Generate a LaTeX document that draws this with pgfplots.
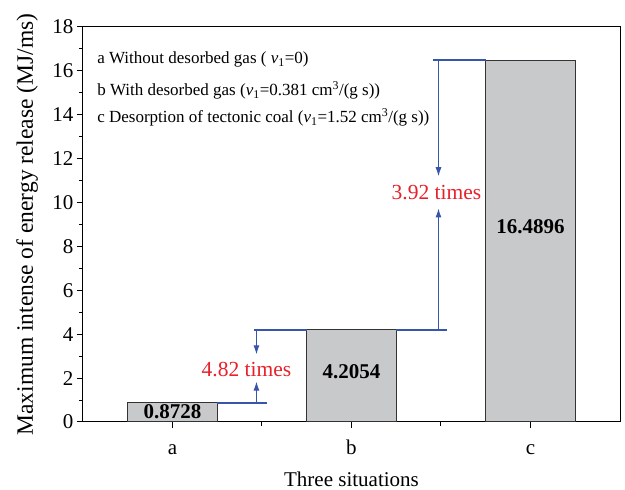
\documentclass[border=0pt]{standalone}
\usepackage{pgfplots}
\pgfplotsset{compat=1.18}
\usepackage{fontspec}
\setmainfont{Liberation Serif}
\usetikzlibrary{arrows.meta}
\definecolor{barfill}{RGB}{200,201,203}
\definecolor{lineblue}{RGB}{55,85,170}
\definecolor{txtred}{RGB}{232,32,42}
\begin{document}
\begin{tikzpicture}[x=1pt,y=1pt]
\useasboundingbox (0,0) rectangle (625,490);
\begin{axis}[
  at={(83pt,68pt)}, anchor=south west, scale only axis, width=537pt, height=395pt,
  xmin=-0.5, xmax=2.5, ymin=0, ymax=18,
  xtick={0,1,2}, xticklabels={\strut a,\strut b,\strut c}, minor xtick={0.5,1.5},
  ytick={0,2,...,18}, minor ytick={1,3,...,17},
  tick align=outside, xtick pos=bottom, ytick pos=left,
  major tick length=6pt, minor tick length=4pt,
  tick style={black, line width=1pt},
  axis line style={line width=1pt},
  ticklabel style={font=\fontsize{21}{25}\selectfont},
  xticklabel style={yshift=-5pt},
  /pgf/number format/assume math mode=true,
  xlabel={Three situations},
  ylabel={Maximum intense of energy release (MJ/ms)},
  xlabel style={font=\fontsize{21}{25}\selectfont, at={(axis description cs:0.5,-0.145)}, anchor=center},
  ylabel style={font=\fontsize{23.5}{28}\selectfont, at={(axis description cs:-0.104,0.5)}, anchor=center},
  clip=false,
]
\addplot[ybar, bar width=0.5, fill=barfill, draw=black!80, line width=1pt]
  coordinates {(0,0.8728) (1,4.2054) (2,16.4896)};

% annotation lines
\draw[lineblue, line width=1.6pt] (axis cs:0.25,0.8728) -- (axis cs:0.53,0.8728);
\draw[lineblue, line width=1.6pt] (axis cs:0.458,4.2054) -- (axis cs:0.75,4.2054);
\draw[lineblue, line width=1.6pt] (axis cs:1.25,4.2054) -- (axis cs:1.536,4.2054);
\draw[lineblue, line width=1.6pt] (axis cs:1.458,16.4896) -- (axis cs:1.75,16.4896);
\draw[lineblue, line width=1pt, -{Latex[length=9pt,width=6pt]}] (axis cs:0.469,4.2054) -- (axis cs:0.469,3.08);
\draw[lineblue, line width=1pt, -{Latex[length=9pt,width=6pt]}] (axis cs:0.469,0.8728) -- (axis cs:0.469,1.84);
\draw[lineblue, line width=1pt, -{Latex[length=9pt,width=6pt]}] (axis cs:1.486,16.4896) -- (axis cs:1.486,11.2);
\draw[lineblue, line width=1pt, -{Latex[length=9pt,width=6pt]}] (axis cs:1.486,4.2054) -- (axis cs:1.486,9.73);

\node[txtred, font=\fontsize{21.5}{26}\selectfont] at (axis cs:0.413,2.39) {4.82 times};
\node[txtred, font=\fontsize{21.5}{26}\selectfont] at (axis cs:1.475,10.47) {3.92 times};

\node[font=\fontsize{21}{25}\selectfont\bfseries] at (axis cs:0,0.45) {0.8728};
\node[font=\fontsize{21}{25}\selectfont\bfseries] at (axis cs:1,2.30) {4.2054};
\node[font=\fontsize{21}{25}\selectfont\bfseries] at (axis cs:2,8.91) {16.4896};

\node[anchor=base west, font=\fontsize{17}{20}\selectfont] at (axis cs:-0.44,16.32) {a Without desorbed gas ( \textit{v}\textsubscript{1}=0)};
\node[anchor=base west, font=\fontsize{17}{20}\selectfont] at (axis cs:-0.44,14.86) {b With desorbed gas (\textit{v}\textsubscript{1}=0.381 cm\textsuperscript{3}/(g s))};
\node[anchor=base west, font=\fontsize{17}{20}\selectfont] at (axis cs:-0.44,13.64) {c Desorption of tectonic coal (\textit{v}\textsubscript{1}=1.52 cm\textsuperscript{3}/(g s))};
\end{axis}
\end{tikzpicture}
\end{document}
